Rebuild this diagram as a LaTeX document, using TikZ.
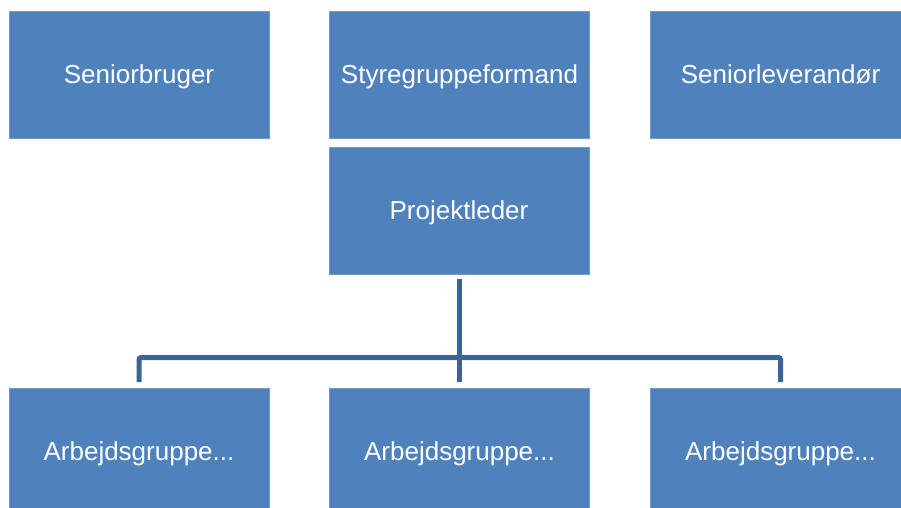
\documentclass[tikz,border=0pt]{standalone}
\usepackage{fontspec}
\setmainfont{Liberation Sans}
\definecolor{boxfill}{HTML}{4F81BD}
\definecolor{boxedge}{HTML}{7498CB}
\definecolor{linkcol}{HTML}{3C6494}
\begin{document}
\begin{tikzpicture}[x=1pt,y=-1pt,
  orgbox/.style={rectangle, fill=boxfill, draw=boxedge, line width=0.6pt,
    minimum width=260pt, minimum height=127pt, inner sep=0pt,
    text height=17.5pt, text depth=0pt,
    text=white, font=\fontsize{26}{30}\selectfont},
  link/.style={draw=linkcol, line width=5pt}]
\useasboundingbox (0,0) rectangle (901,507);
\clip (0,0) rectangle (901,507);
% top row
\node[orgbox] (sb) at (139,74.7) {Seniorbruger};
\node[orgbox] (sf) at (459.5,74.7) {Styregruppeformand};
\node[orgbox] (sl) at (780.5,74.7) {Seniorleverandør};
% project manager
\node[orgbox] (pl) at (459,210.5) {Projektleder};
% working groups
\node[orgbox] (a1) at (139,451.5) {Arbejdsgruppe...};
\node[orgbox] (a2) at (459.5,451.5) {Arbejdsgruppe...};
\node[orgbox] (a3) at (780.5,451.5) {Arbejdsgruppe...};
% connectors
\coordinate (bus) at (459.5,357.5);
\draw[link, shorten <=5pt, shorten >=5.5pt] (pl.south -| a2.north) -- (a2.north);
\draw[link, rounded corners=2pt, shorten <=5.5pt, shorten >=5.5pt]
  (a1.north) |- (bus) -| (a3.north);
\end{tikzpicture}
\end{document}
